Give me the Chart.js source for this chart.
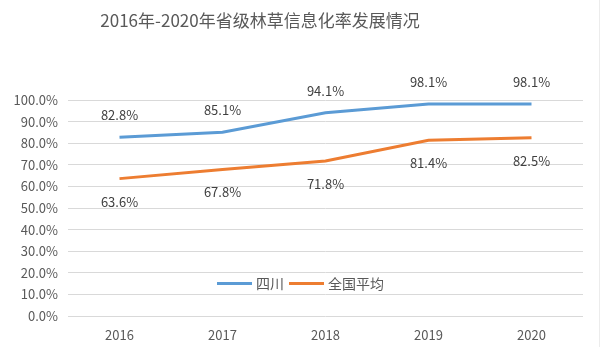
<!DOCTYPE html>
<html>
<head>
<meta charset="utf-8">
<script src="https://cdn.jsdelivr.net/npm/chart.js@4"></script>
<style>
  html, body { margin: 0; padding: 0; background: #fff; }
  #wrap { width: 600px; height: 347px; position: relative; }
</style>
</head>
<body>
<div id="wrap"><canvas id="myChart"></canvas></div>
<script>
const years = ['2016', '2017', '2018', '2019', '2020'];
const sichuan = [82.8, 85.1, 94.1, 98.1, 98.1];
const national = [63.6, 67.8, 71.8, 81.4, 82.5];
const yTicks = [0, 10, 20, 30, 40, 50, 60, 70, 80, 90, 100];

const FONT = '"Microsoft YaHei", "Noto Sans CJK SC", sans-serif';

// title drawn by hand so it can sit a little left of centre
const titlePlugin = {
  id: 'titleText',
  afterDraw(chart) {
    const c = chart.ctx;
    c.save();
    c.font = '17px ' + FONT;
    c.fillStyle = '#595959';
    c.textAlign = 'center';
    c.textBaseline = 'middle';
    c.fillText('2016年-2020年省级林草信息化率发展情况', 260, 21);
    // faint frame edge on the right
    c.strokeStyle = '#ececec';
    c.lineWidth = 1;
    c.beginPath();
    c.moveTo(599.5, 0);
    c.lineTo(599.5, chart.height);
    c.stroke();
    c.restore();
  }
};

// value labels: blue above the line, orange below
const labelPlugin = {
  id: 'valueLabels',
  afterDatasetsDraw(chart) {
    const c = chart.ctx;
    c.save();
    c.font = '13px ' + FONT;
    c.fillStyle = '#404040';
    c.textAlign = 'center';
    c.textBaseline = 'middle';
    chart.data.datasets.forEach((ds, i) => {
      const meta = chart.getDatasetMeta(i);
      meta.data.forEach((pt, j) => {
        const dy = i === 0 ? -22 : 23;
        c.fillText(ds.data[j].toFixed(1) + '%', pt.x, pt.y + dy);
      });
    });
    c.restore();
  }
};

// legend sits inside the plot near the bottom
const legendPlugin = {
  id: 'innerLegend',
  afterDraw(chart) {
    const c = chart.ctx;
    c.save();
    c.font = '14px ' + FONT;
    c.textBaseline = 'middle';
    const y = chart.scales.y.getPixelForValue(15);
    let x = 217;
    chart.data.datasets.forEach(ds => {
      c.strokeStyle = ds.borderColor;
      c.lineWidth = 3;
      c.beginPath();
      c.moveTo(x, y);
      c.lineTo(x + 35, y);
      c.stroke();
      x += 39;
      c.fillStyle = '#595959';
      c.fillText(ds.label, x, y);
      x += c.measureText(ds.label).width + 5;
    });
    c.restore();
  }
};

const ctx = document.getElementById('myChart');

const chart = new Chart(ctx, {
  type: 'line',
  data: {
    labels: years,
    datasets: [{
      label: '四川',
      data: sichuan,
      borderColor: '#5B9BD5',
      backgroundColor: '#5B9BD5',
      borderWidth: 3,
      pointRadius: 0,
      tension: 0
    }, {
      label: '全国平均',
      data: national,
      borderColor: '#ED7D31',
      backgroundColor: '#ED7D31',
      borderWidth: 3,
      pointRadius: 0,
      tension: 0
    }]
  },
  options: {
    responsive: true,
    maintainAspectRatio: false,
    animation: false,
    layout: {
      padding: { top: 100, right: 17, bottom: 0, left: 0 }
    },
    plugins: {
      legend: { display: false },
      title: { display: false },
      tooltip: { enabled: false }
    },
    scales: {
      x: {
        offset: true,
        grid: { display: false },
        border: { display: false },
        afterFit(axis) { axis.height = 31; },
        ticks: { color: '#595959', font: { size: 13, family: FONT }, padding: 3 }
      },
      y: {
        min: 0,
        max: 100,
        afterBuildTicks(axis) {
          axis.ticks = yTicks.map(v => ({ value: v }));
        },
        afterFit(axis) { axis.width = 68; },
        grid: { color: '#d9d9d9', lineWidth: 1, drawTicks: false },
        border: { display: false },
        ticks: {
          color: '#595959',
          font: { size: 13, family: FONT },
          padding: 10,
          callback: v => v.toFixed(1) + '%'
        }
      }
    }
  },
  plugins: [titlePlugin, labelPlugin, legendPlugin]
});
</script>
</body>
</html>
